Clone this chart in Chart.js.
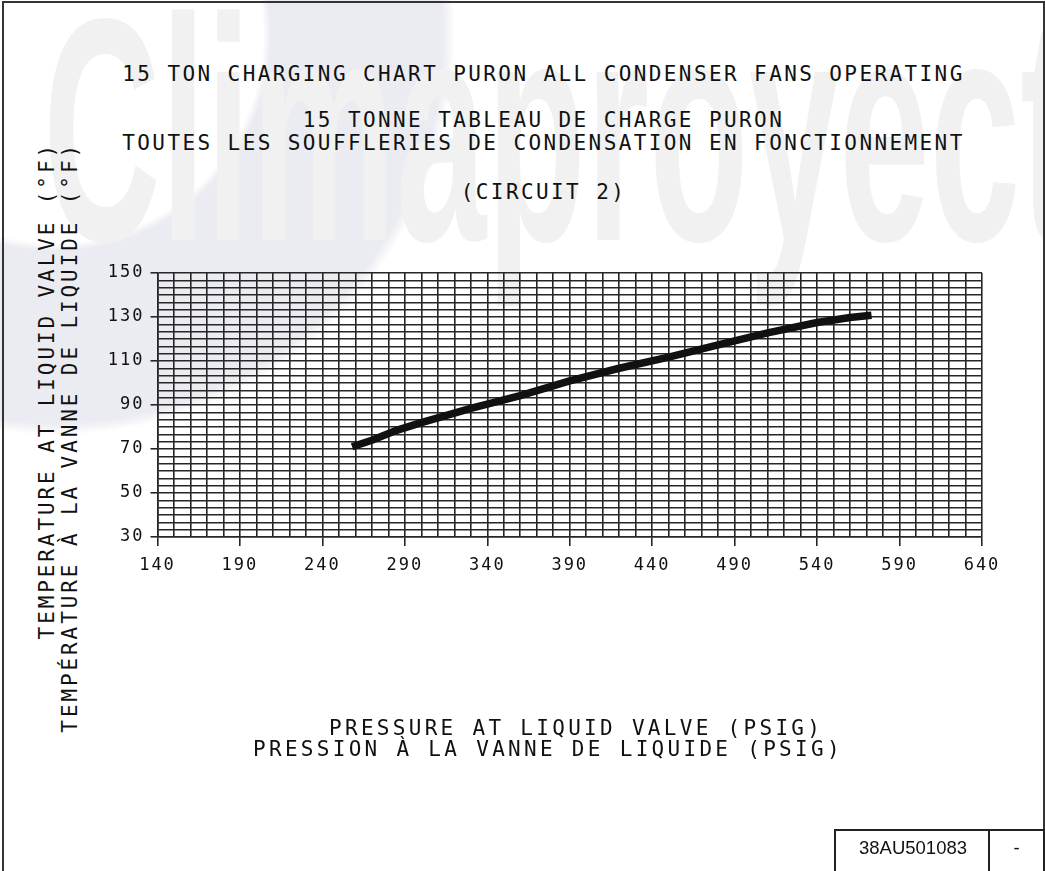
<!DOCTYPE html>
<html lang="en">
<head>
<meta charset="UTF-8">
<title>15 Ton Charging Chart - Circuit 2</title>
<script src="https://cdn.jsdelivr.net/npm/chart.js"></script>
<style>
  html, body { margin: 0; padding: 0; background: #fff; }
  #page { position: relative; width: 1045px; height: 871px; overflow: hidden; background: #fff;
          font-family: "DejaVu Sans Mono", monospace; color: #111; }
  /* faint logo watermark behind everything */
  .swoosh { position: absolute; left: -345px; top: -365px; width: 800px; height: 800px;
            background: radial-gradient(circle closest-side, rgba(0,0,0,0) 0 52%, #ebebf2 54% 97%, rgba(0,0,0,0) 100%); }
  .wm { position: absolute; left: 43px; top: -29px; font: bold 318px/318px "Liberation Sans", sans-serif;
        color: #f1f1f1; white-space: nowrap; transform-origin: 0 0; transform: scaleX(0.512); }
  .frame { position: absolute; left: 2px; top: 1px; width: 1039px; height: 950px; border: 2px solid #333; }
  .title { position: absolute; left: 0; width: 1087px; text-align: center; font-size: 21px;
           line-height: 21px; letter-spacing: 2.4px; white-space: nowrap; }
  .ytitle { position: absolute; left: -241.5px; top: 419px; width: 600px; height: 46px;
            transform: rotate(-90deg); text-align: right; font-size: 21px; line-height: 23px;
            letter-spacing: 2.9px; white-space: nowrap; }
  .xtitle { position: absolute; font-size: 21px; line-height: 21px; letter-spacing: 3.3px; white-space: nowrap; }
  #wrap { position: absolute; left: 0; top: 0; width: 1045px; height: 871px; }
  .box { position: absolute; left: 834px; top: 829px; width: 207px; height: 60px; border: 2px solid #222;
         font-family: "Liberation Sans", sans-serif; font-size: 18.5px; }
  .box .num { position: absolute; left: 0; top: 6px; width: 154px; text-align: center; }
  .box .div { position: absolute; left: 152px; top: 0; width: 2px; height: 60px; background: #222; }
  .box .rev { position: absolute; left: 154px; top: 6px; width: 53px; text-align: center; }
</style>
</head>
<body>
<div id="page">
  <div class="swoosh"></div>
  <div class="wm">Climaproyect</div>
  <div class="frame"></div>

  <div class="title" style="top:64px">15 TON CHARGING CHART PURON ALL CONDENSER FANS OPERATING</div>
  <div class="title" style="top:110px">15 TONNE TABLEAU DE CHARGE PURON</div>
  <div class="title" style="top:133px">TOUTES LES SOUFFLERIES DE CONDENSATION EN FONCTIONNEMENT</div>
  <div class="title" style="top:182px">(CIRCUIT 2)</div>

  <div class="ytitle">TEMPERATURE AT LIQUID VALVE (°F)<br>TEMPÉRATURE À LA VANNE DE LIQUIDE (°F)</div>

  <div id="wrap"><canvas id="grafico"></canvas></div>

  <div class="xtitle" style="left:329px; top:718px">PRESSURE AT LIQUID VALVE (PSIG)</div>
  <div class="xtitle" style="left:253px; top:739px">PRESSION À LA VANNE DE LIQUIDE (PSIG)</div>

  <div class="box"><div class="num">38AU501083</div><div class="div"></div><div class="rev">-</div></div>
</div>

<script>
// valores
const pressure = [258, 270, 285, 300, 330, 360, 390, 420, 450, 480, 510, 540, 560, 573];
const temperature = [71, 74, 78.5, 82, 88.5, 94.3, 101, 106.7, 111.8, 117.3, 122.8, 127.5, 129.8, 130.8];

// ejes
const xMin = 140, xMax = 640, xStep = 10, xLabelEvery = 50;
const yMin = 30, yMax = 150, yDivisions = 36, yLabelEvery = 6;

const gridColor = '#262626';

const letterSpacing = {
    id: 'letterSpacing',
    beforeDraw(chart) { chart.ctx.letterSpacing = '2px'; },
    afterDraw(chart) { chart.ctx.letterSpacing = '0px'; }
};

document.addEventListener("DOMContentLoaded", function() {
    const ctx = document.getElementById('grafico').getContext('2d');
    const puntos = pressure.map((p, i) => ({ x: p, y: temperature[i] }));

    new Chart(ctx, {
        type: 'line',
        data: {
            datasets: [{
                data: puntos,
                borderColor: '#111',
                borderWidth: 7.5,
                borderCapStyle: 'butt',
                pointRadius: 0,
                tension: 0,
                fill: false
            }]
        },
        plugins: [letterSpacing],
        options: {
            responsive: true,
            maintainAspectRatio: false,
            animation: false,
            layout: { padding: { left: 100, top: 273, right: 63, bottom: 294 } },
            plugins: { legend: { display: false }, tooltip: { enabled: false } },
            scales: {
                x: {
                    type: 'linear',
                    min: xMin,
                    max: xMax,
                    afterBuildTicks: function(scale) {
                        const t = [];
                        for (let v = xMin; v <= xMax; v += xStep) t.push({ value: v });
                        scale.ticks = t;
                    },
                    afterFit: function(scale) { scale.height = 40; },
                    ticks: {
                        autoSkip: false,
                        maxRotation: 0,
                        padding: 9,
                        color: '#111',
                        font: { family: 'DejaVu Sans Mono', size: 17 },
                        callback: function(value) {
                            return (value - xMin) % xLabelEvery === 0 ? String(value) : '';
                        }
                    },
                    grid: {
                        color: gridColor,
                        lineWidth: 1.6,
                        tickLength: 9,
                        tickWidth: 1.6,
                        tickColor: function(c) {
                            return c.tick && c.tick.label ? gridColor : 'rgba(0,0,0,0)';
                        }
                    },
                    border: { color: gridColor, width: 1.6 }
                },
                y: {
                    type: 'linear',
                    min: yMin,
                    max: yMax,
                    afterBuildTicks: function(scale) {
                        const t = [];
                        for (let i = 0; i <= yDivisions; i++) {
                            t.push({ value: yMin + i * (yMax - yMin) / yDivisions });
                        }
                        scale.ticks = t;
                    },
                    afterFit: function(scale) { scale.width = 57.5; },
                    ticks: {
                        autoSkip: false,
                        padding: 6,
                        color: '#111',
                        font: { family: 'DejaVu Sans Mono', size: 17 },
                        callback: function(value, index) {
                            return index % yLabelEvery === 0 ? String(Math.round(value)) : '';
                        }
                    },
                    grid: {
                        color: gridColor,
                        lineWidth: 1.6,
                        tickLength: 7,
                        tickWidth: 1.6,
                        tickColor: function(c) {
                            return c.tick && c.tick.label ? gridColor : 'rgba(0,0,0,0)';
                        }
                    },
                    border: { color: gridColor, width: 1.6 }
                }
            }
        }
    });
});
</script>
</body>
</html>
